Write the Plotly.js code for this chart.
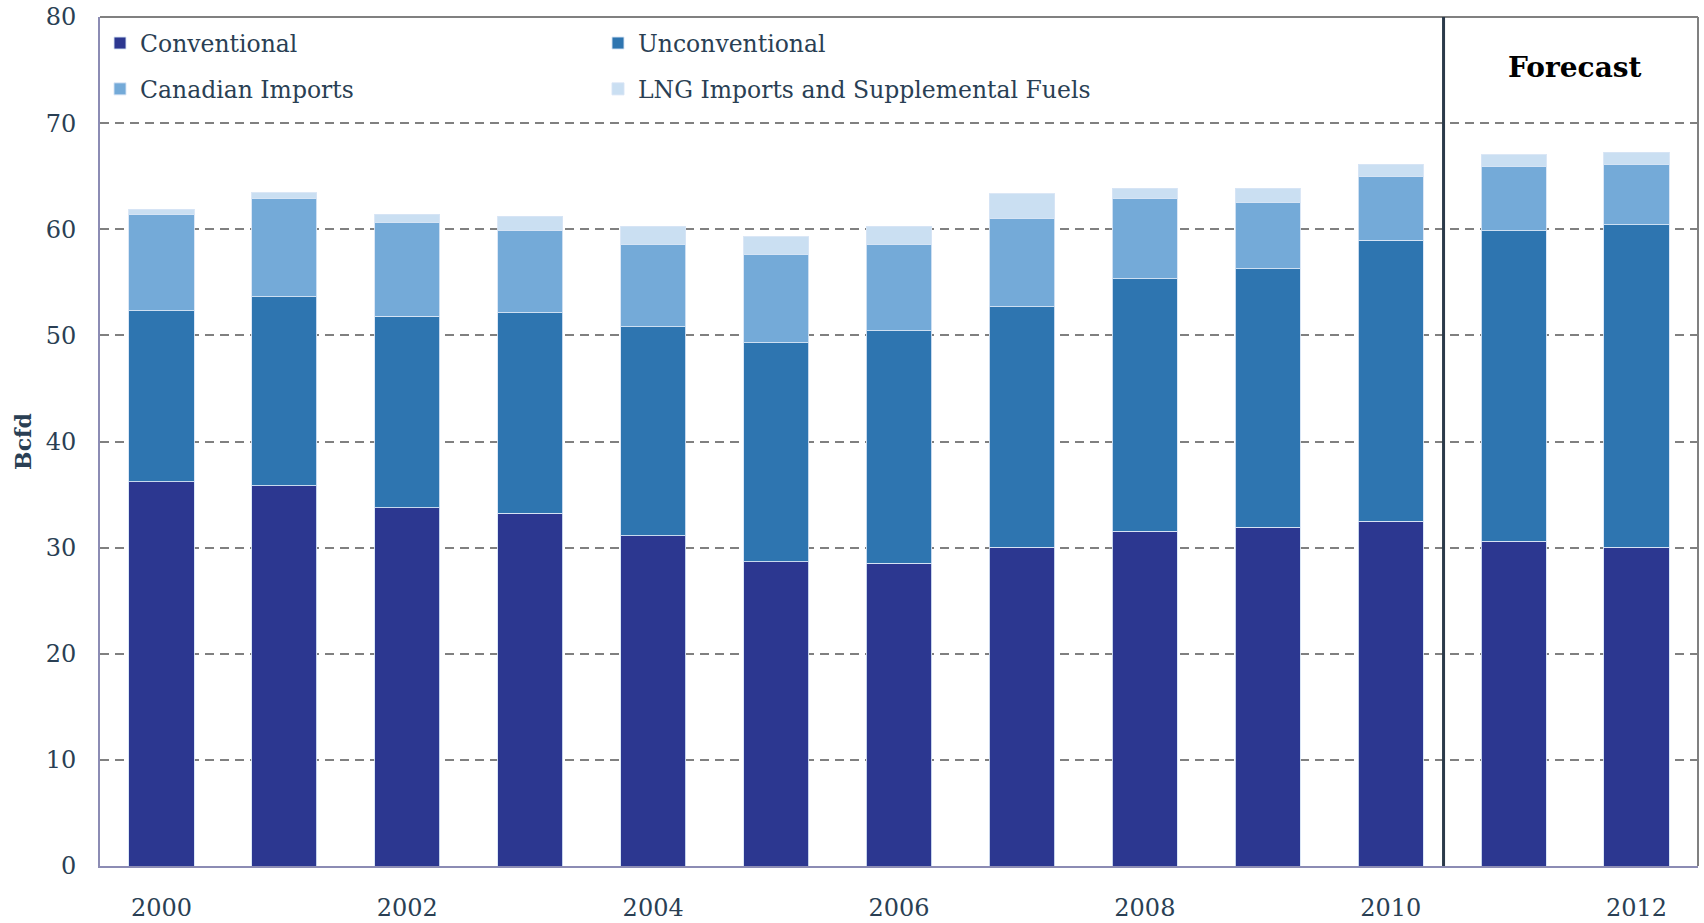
<!DOCTYPE html>
<html>
<head>
<meta charset="utf-8">
<script src="https://cdn.plot.ly/plotly-3.0.1.min.js"></script>
<style>html,body{margin:0;padding:0;background:#fff;}#chart{width:1704px;height:923px;}</style>
</head>
<body>
<div id="chart"></div>
<script>
const years = [2000, 2001, 2002, 2003, 2004, 2005, 2006, 2007, 2008, 2009, 2010, 2011, 2012];
const conventional   = [36.2, 35.85, 33.77, 33.24, 31.13, 28.68, 28.53, 30.03, 31.54, 31.92, 32.49, 30.6, 30.03];
const unconventional = [16.12, 17.81, 18.01, 18.91, 19.7, 20.64, 21.92, 22.69, 23.79, 24.35, 26.48, 29.28, 30.38];
const canadianImports = [9.05, 9.2, 8.82, 7.73, 7.73, 8.27, 8.08, 8.26, 7.53, 6.25, 5.97, 6.0, 5.66];
const lngSupplemental = [0.53, 0.6, 0.82, 1.35, 1.72, 1.72, 1.75, 2.36, 1.01, 1.35, 1.19, 1.16, 1.19];
const xTickVals = [2000, 2002, 2004, 2006, 2008, 2010, 2012];
const xTickText = ['2000', '2002', '2004', '2006', '2008', '2010', '2012'];
const forecastBoundary = 2010.43;

const textColor = '#2a3f54';
const serif = 'DejaVu Serif, Liberation Serif, serif';
const barLine = {color: 'rgba(215,228,245,0.9)', width: 1};

const traces = [
  {name: 'Conventional', y: conventional, color: '#2c3790', legend: 'legend'},
  {name: 'Unconventional', y: unconventional, color: '#2e75b0', legend: 'legend'},
  {name: 'Canadian Imports', y: canadianImports, color: '#74aad8', legend: 'legend2'},
  {name: 'LNG Imports and Supplemental Fuels', y: lngSupplemental, color: '#cadff2', legend: 'legend2'}
].map(s => ({
  type: 'bar', x: years, y: s.y, name: s.name, legend: s.legend,
  marker: {color: s.color, line: barLine}, width: 0.53, hoverinfo: 'x+y+name'
}));

const legendCommon = {
  orientation: 'h', xanchor: 'left', yanchor: 'top', x: 0,
  entrywidth: 453, entrywidthmode: 'pixels', bgcolor: 'rgba(0,0,0,0)',
  font: {family: serif, size: 23.5, color: textColor}, traceorder: 'normal'
};

const layout = {
  width: 1704, height: 923,
  margin: {l: 100, r: 6, t: 17, b: 57},
  paper_bgcolor: '#fff', plot_bgcolor: '#fff',
  barmode: 'stack',
  showlegend: true,
  legend: Object.assign({}, legendCommon, {y: 0.995}),
  legend2: Object.assign({}, legendCommon, {y: 0.941}),
  xaxis: {
    range: [1999.5, 2012.5], tickvals: xTickVals, ticktext: xTickText,
    showgrid: false, zeroline: false, showline: true, linecolor: '#8c8cb4', linewidth: 2,
    ticks: '', ticklabelstandoff: 19,
    tickfont: {family: serif, size: 24, color: textColor}
  },
  yaxis: {
    range: [0, 80], dtick: 10, tick0: 0,
    showgrid: true, gridcolor: '#808080', gridwidth: 2, griddash: '9px,6px',
    zeroline: false, showline: true, linecolor: '#8c8cb4', linewidth: 2,
    ticks: '', ticklabelstandoff: 17,
    tickfont: {family: serif, size: 24, color: textColor},
    title: {text: '<b>Bcfd</b>', standoff: 8, font: {family: serif, size: 22, color: textColor}}
  },
  shapes: [
    {type: 'line', xref: 'paper', yref: 'paper', x0: 0, x1: 1, y0: 1, y1: 1, line: {color: '#808080', width: 2}},
    {type: 'line', xref: 'paper', yref: 'paper', x0: 1, x1: 1, y0: 0, y1: 1, line: {color: '#808080', width: 2}},
    {type: 'line', xref: 'x', yref: 'paper', x0: forecastBoundary, x1: forecastBoundary, y0: 0, y1: 1, line: {color: '#2b3a4a', width: 3}}
  ],
  annotations: [
    {text: '<b>Forecast</b>', xref: 'paper', yref: 'paper', x: 0.923, y: 0.94, xanchor: 'center', yanchor: 'middle',
     showarrow: false, font: {family: serif, size: 28, color: '#000'}}
  ]
};

Plotly.newPlot('chart', traces, layout, {displayModeBar: false, responsive: false});
</script>
</body>
</html>
